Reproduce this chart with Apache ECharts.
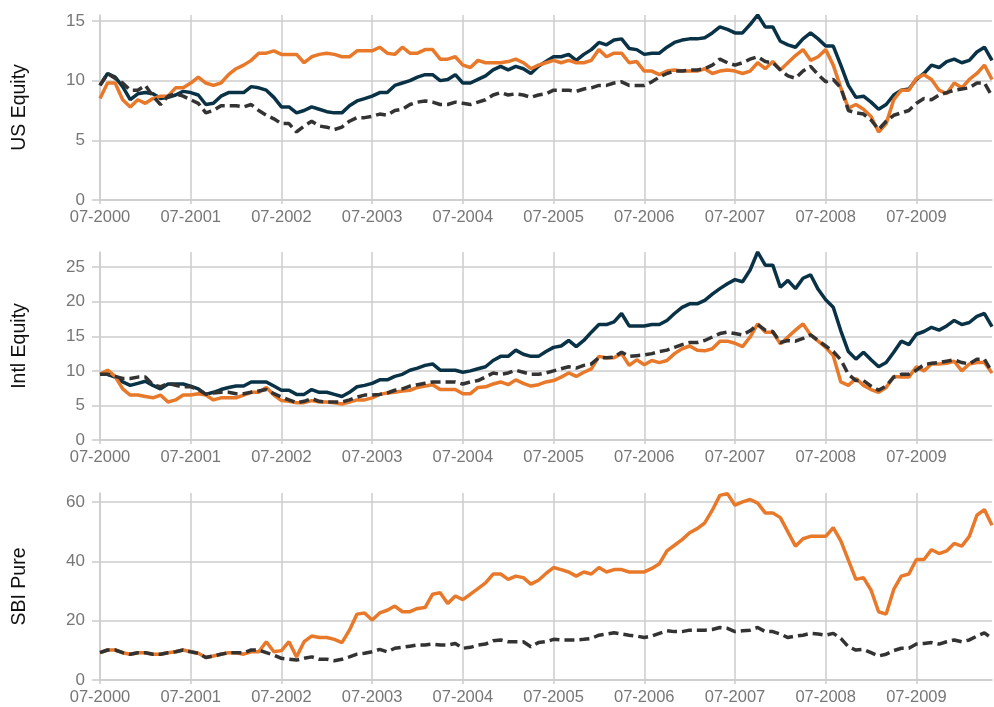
<!DOCTYPE html>
<html>
<head>
<meta charset="utf-8">
<title>Rolling volatility</title>
<script src="https://cdn.jsdelivr.net/npm/echarts@6/dist/echarts.min.js"></script>
<style>
	html, body { margin: 0; padding: 0; background: #fff; }
	#chart { width: 994px; height: 707px; }
</style>
</head>
<body>
<div id="chart"></div>
<script>
// 月份 07-2000 ... 05-2010
var months = [];
(function () {
	var y = 2000, m = 7;
	for (var i = 0; i < 119; i++) {
		months.push((m < 10 ? '0' + m : '' + m) + '-' + y);
		m++;
		if (m > 12) { m = 1; y++; }
	}
})();

var panelNames = ['US Equity', 'Intl Equity', 'SBI Pure'];

// US Equity
var usNavy = [9.6,10.6,10.3,9.5,8.4,8.9,9.0,8.9,8.5,8.6,8.8,9.1,9.0,8.8,8.0,8.1,8.7,9.0,9.0,9.0,
	9.5,9.4,9.2,8.6,7.8,7.8,7.3,7.5,7.8,7.6,7.4,7.3,7.3,7.9,8.3,8.5,8.7,9.0,9.0,9.6,
	9.8,10.0,10.3,10.5,10.5,10.0,10.1,10.5,9.8,9.8,10.1,10.4,10.9,11.2,10.9,11.2,11.0,10.6,11.2,11.6,
	12.0,12.0,12.2,11.7,12.2,12.6,13.2,13.0,13.4,13.5,12.7,12.6,12.2,12.3,12.3,12.8,13.2,13.4,13.5,13.5,
	13.6,14.0,14.5,14.3,14.0,14.0,14.7,15.5,14.5,14.5,13.3,13.0,12.8,13.5,14.0,13.5,12.9,12.9,11.3,9.6,
	8.6,8.7,8.2,7.6,8.0,8.8,9.2,9.3,10.1,10.6,11.3,11.1,11.6,11.8,11.5,11.7,12.4,12.8,11.7];
var usOrange = [8.5,9.8,9.8,8.4,7.8,8.4,8.1,8.5,8.7,8.7,9.4,9.4,9.8,10.3,9.8,9.6,9.8,10.5,11.0,11.3,
	11.7,12.3,12.3,12.5,12.2,12.2,12.2,11.5,12.0,12.2,12.3,12.2,12.0,12.0,12.5,12.5,12.5,12.8,12.3,12.2,
	12.8,12.3,12.3,12.6,12.6,11.8,11.8,12.0,11.3,11.1,11.7,11.5,11.5,11.5,11.6,11.8,11.5,11.0,11.3,11.5,
	11.7,11.5,11.7,11.5,11.5,11.7,12.6,12.0,12.3,12.3,11.5,11.6,10.8,10.8,10.5,10.8,10.9,10.8,10.8,10.8,
	11.0,10.6,10.8,10.9,10.8,10.6,10.8,11.5,11.0,11.6,10.9,11.5,12.1,12.6,11.7,12.0,12.6,11.3,9.4,7.7,
	8.0,7.6,7.0,5.7,6.4,8.4,9.2,9.2,10.2,10.5,10.1,9.2,8.9,9.8,9.4,10.1,10.6,11.3,10.1];
var usBench = [9.6,10.6,10.2,9.8,9.2,9.2,9.6,8.7,8.0,8.7,8.9,8.7,8.4,8.1,7.3,7.5,7.9,7.9,7.9,7.8,
	8.0,7.5,7.1,6.8,6.4,6.4,5.7,6.2,6.6,6.2,6.1,5.9,6.1,6.6,6.9,6.9,7.0,7.2,7.1,7.5,
	7.6,8.0,8.2,8.3,8.2,8.0,8.0,8.2,8.1,8.0,8.2,8.4,8.8,9.0,8.8,8.9,8.8,8.6,8.8,8.9,
	9.2,9.2,9.2,9.1,9.3,9.4,9.6,9.6,9.8,9.9,9.6,9.6,9.6,9.9,10.3,10.6,10.8,10.8,10.9,10.9,
	11.0,11.3,11.8,11.5,11.3,11.5,11.8,12.0,11.6,11.5,10.9,10.4,10.2,10.8,11.2,10.5,9.9,10.1,9.4,7.5,
	7.3,7.2,6.7,5.9,6.6,7.1,7.3,7.5,8.1,8.5,8.4,8.8,9.0,9.2,9.3,9.4,9.8,9.8,8.7];

// Intl Equity
var intlNavy = [9.5,9.5,9.1,8.4,7.9,8.2,8.5,7.9,7.4,8.1,8.1,8.1,7.8,7.4,6.6,6.9,7.3,7.6,7.8,7.8,
	8.4,8.4,8.4,7.8,7.2,7.2,6.6,6.6,7.3,6.9,6.9,6.6,6.3,6.9,7.7,7.9,8.2,8.7,8.7,9.2,
	9.5,10.1,10.4,10.8,11.0,10.1,10.1,10.1,9.8,10.0,10.3,10.6,11.5,12.1,12.1,13.0,12.4,12.1,12.1,12.8,
	13.4,13.6,14.4,13.5,14.4,15.6,16.7,16.7,17.1,18.3,16.5,16.5,16.5,16.7,16.7,17.3,18.3,19.2,19.7,19.7,
	20.2,21.1,21.9,22.6,23.2,22.9,24.6,27.2,25.3,25.3,22.1,23.1,21.9,23.4,23.9,21.8,20.3,19.2,15.8,12.8,
	11.7,12.7,11.6,10.6,11.2,12.7,14.3,13.8,15.3,15.7,16.3,15.9,16.5,17.3,16.7,17.0,17.9,18.3,16.4];
var intlOrange = [9.5,10.1,9.2,7.4,6.5,6.5,6.3,6.1,6.5,5.5,5.8,6.5,6.5,6.7,6.5,5.8,6.1,6.1,6.1,6.5,
	6.9,6.9,7.6,6.5,5.7,5.6,5.4,5.4,5.7,5.5,5.5,5.4,5.2,5.5,5.8,5.8,6.1,6.6,6.8,6.9,
	7.1,7.2,7.6,7.8,8.0,7.3,7.3,7.3,6.7,6.7,7.6,7.7,8.1,8.4,8.0,8.7,8.2,7.8,8.0,8.4,
	8.6,9.1,9.7,9.2,9.8,10.3,12.1,11.9,11.9,12.5,10.8,11.6,10.9,11.5,11.2,11.5,12.5,13.2,13.6,13.0,
	12.9,13.2,14.3,14.3,14.0,13.5,14.9,16.8,15.6,15.6,13.9,14.9,15.9,16.8,15.2,14.3,13.4,12.2,8.4,7.9,
	8.9,7.9,7.3,6.9,7.6,9.2,9.1,9.1,10.6,10.0,11.0,11.0,11.1,11.4,10.0,11.0,11.2,11.2,9.7];
var intlBench = [9.5,9.5,9.2,8.9,8.9,9.1,9.1,8.0,7.7,8.2,7.9,7.7,7.7,7.3,6.6,6.8,6.9,6.9,6.7,6.7,
	6.9,7.1,7.3,6.7,6.2,5.8,5.4,5.6,6.0,5.6,5.5,5.5,5.5,5.8,6.2,6.5,6.5,6.6,6.8,7.2,
	7.4,7.8,8.0,8.2,8.4,8.4,8.4,8.4,8.1,8.4,8.6,9.1,9.7,9.5,9.7,10.1,9.8,9.5,9.5,9.7,
	10.0,10.3,10.6,10.4,10.8,11.0,11.9,11.9,12.0,12.7,12.1,12.2,12.3,12.5,12.8,13.0,13.4,13.8,14.1,14.1,
	14.4,14.9,15.4,15.6,15.4,15.2,15.8,16.7,15.9,15.7,14.1,14.4,14.3,14.7,15.2,14.4,13.6,12.8,11.6,9.5,
	8.6,8.6,7.8,7.2,7.8,9.1,9.5,9.5,10.1,10.9,11.1,11.2,11.4,11.6,11.2,11.0,11.7,11.7,9.8];

// SBI Pure
var sbiOrange = [9.2,10.1,10.1,9.2,8.7,9.2,9.2,8.7,8.7,9.2,9.5,10.1,9.5,9.0,7.6,8.1,8.7,9.2,9.2,8.7,
	9.5,9.5,12.9,9.5,9.9,12.9,7.8,12.9,14.8,14.3,14.3,13.7,12.6,16.8,22.2,22.6,20.2,22.6,23.5,24.9,
	23.0,23.0,24.1,24.4,28.9,29.4,25.8,28.3,27.1,28.9,30.8,32.7,35.7,35.7,33.9,35.0,34.5,32.3,33.6,35.9,
	37.9,37.2,36.4,35.0,36.4,35.7,37.9,36.4,37.2,37.2,36.4,36.4,36.4,37.6,39.2,43.5,45.4,47.3,49.6,51.0,
	52.9,57.2,62.2,62.8,58.9,60.0,60.8,59.6,56.3,56.3,54.7,49.9,45.1,47.6,48.4,48.4,48.4,51.3,46.9,40.4,
	33.9,34.5,30.3,23.0,22.2,30.5,35.0,35.7,40.6,40.6,43.9,42.6,43.5,46.0,45.1,48.4,55.5,57.4,52.1];
var sbiBench = [9.2,10.1,10.1,9.2,8.7,9.2,9.2,8.7,8.7,9.2,9.5,10.1,9.5,9.0,7.6,8.1,8.7,9.2,9.2,9.2,
	10.1,10.1,9.2,8.4,7.3,7.0,6.7,7.3,7.8,7.0,7.0,6.5,7.0,7.8,8.7,9.0,9.5,10.3,9.5,10.7,
	11.0,11.4,11.8,11.8,12.1,11.8,11.8,12.3,10.7,11.0,11.8,12.1,13.2,13.5,12.9,12.9,12.9,11.2,12.6,12.9,
	13.7,13.5,13.5,13.5,13.7,14.0,15.1,15.5,15.9,15.5,15.1,14.8,14.3,14.8,15.7,16.6,16.3,16.3,16.8,16.8,
	16.8,17.0,17.7,17.4,16.3,16.6,16.8,17.7,16.3,16.3,15.5,14.3,14.8,15.1,15.7,15.5,15.1,15.7,14.0,11.2,
	10.1,10.3,9.2,8.1,8.7,9.9,10.7,10.7,12.1,12.3,12.6,12.1,12.9,13.5,12.9,13.5,14.8,15.9,14.0];

// 刻度
var yMax = [15.5, 27.2, 63];
var yStep = [5, 5, 20];

var navyColor = '#0a3246';
var orangeColor = '#e8792a';
var benchColor = '#333333';
var gridColor = '#cccccc';
var fontFam = 'Liberation Sans, Arial, sans-serif';

var grids = [
	{ left: 100, right: 2, top: 15, height: 185 },
	{ left: 100, right: 2, top: 252, height: 188 },
	{ left: 100, right: 2, top: 493, height: 187 }
];

var xAxes = [], yAxes = [];
for (var k = 0; k < 3; k++) {
	xAxes.push({
		type: 'category',
		gridIndex: k,
		data: months,
		boundaryGap: false,
		axisLine: { lineStyle: { color: gridColor, width: 1.5 } },
		axisTick: { show: true, interval: 11, length: 4, lineStyle: { color: gridColor, width: 1.5 } },
		axisLabel: { interval: 11, color: '#777', fontSize: 16.5, margin: 9, fontFamily: fontFam },
		splitLine: { show: true, interval: 11, lineStyle: { color: gridColor, width: 1.5 } }
	});
	yAxes.push({
		type: 'value',
		gridIndex: k,
		min: 0,
		max: yMax[k],
		interval: yStep[k],
		name: panelNames[k],
		nameLocation: 'middle',
		nameGap: 70,
		nameTextStyle: { color: '#111', fontSize: 19.5, fontFamily: fontFam },
		axisLine: { show: true, lineStyle: { color: gridColor, width: 1.5 } },
		axisTick: { show: true, length: 8, lineStyle: { color: gridColor, width: 1.5 } },
		axisLabel: { color: '#777', fontSize: 17, margin: 15, showMaxLabel: false, fontFamily: fontFam },
		splitLine: { show: true, showMaxLine: false, lineStyle: { color: gridColor, width: 1.5 } }
	});
}

function lineSeries(k, data, color, dashed) {
	return {
		type: 'line',
		xAxisIndex: k,
		yAxisIndex: k,
		data: data,
		symbol: 'none',
		animation: false,
		clip: false,
		lineStyle: { color: color, width: 3.5, type: dashed ? [10, 5] : 'solid' },
		z: dashed ? 4 : 3
	};
}

var chart = echarts.init(document.getElementById('chart'));
chart.setOption({
	backgroundColor: '#fff',
	grid: grids,
	xAxis: xAxes,
	yAxis: yAxes,
	series: [
		lineSeries(0, usNavy, navyColor, false),
		lineSeries(0, usOrange, orangeColor, false),
		lineSeries(0, usBench, benchColor, true),
		lineSeries(1, intlNavy, navyColor, false),
		lineSeries(1, intlOrange, orangeColor, false),
		lineSeries(1, intlBench, benchColor, true),
		lineSeries(2, sbiOrange, orangeColor, false),
		lineSeries(2, sbiBench, benchColor, true)
	]
});
</script>
</body>
</html>
